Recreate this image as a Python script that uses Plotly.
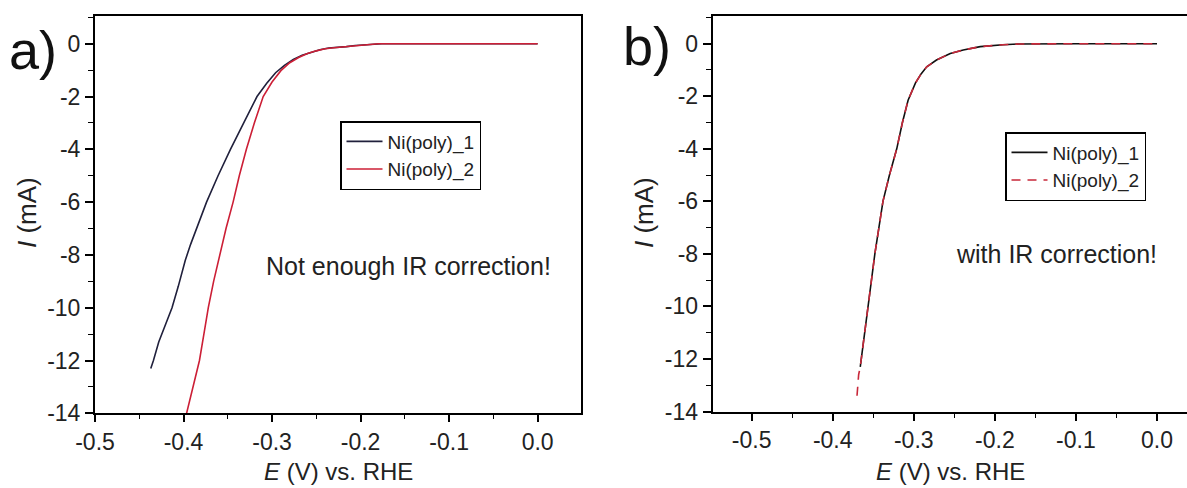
import plotly.graph_objects as go

# ---------------- data ----------------
# panel a) (not enough IR correction)
E_a1 = [-0.437, -0.434, -0.428, -0.420, -0.413, -0.406, -0.401, -0.398, -0.392, -0.384,
        -0.374, -0.361, -0.347, -0.332, -0.317, -0.306, -0.296, -0.286, -0.276, -0.266,
        -0.256, -0.246, -0.236, -0.226, -0.216, -0.206, -0.196, -0.186, -0.176, -0.150,
        -0.100, -0.050, 0.000]
I_a1 = [-12.3, -12.0, -11.3, -10.6, -10.0, -9.2, -8.5, -8.2, -7.6, -6.9,
        -6.0, -5.0, -4.0, -3.0, -2.0, -1.5, -1.1, -0.82, -0.60, -0.44,
        -0.32, -0.23, -0.16, -0.14, -0.11, -0.07, -0.04, -0.02, 0.0, 0.0,
        0.0, 0.0, 0.0]

E_a2 = [-0.398, -0.389, -0.382, -0.377, -0.372, -0.366, -0.359, -0.352, -0.344, -0.337,
        -0.329, -0.320, -0.310, -0.300, -0.290, -0.280, -0.270, -0.260, -0.250, -0.240,
        -0.230, -0.220, -0.210, -0.200, -0.190, -0.180, -0.150, -0.100, -0.050, 0.000]
I_a2 = [-14.2, -13.0, -12.0, -11.0, -10.0, -9.0, -8.0, -7.0, -6.0, -5.0,
        -4.0, -3.0, -2.0, -1.45, -1.02, -0.72, -0.52, -0.37, -0.27, -0.19,
        -0.15, -0.12, -0.08, -0.05, -0.02, 0.0, 0.0, 0.0, 0.0, 0.0]

# panel b) (with IR correction)
E_b1 = [-0.366, -0.362, -0.356, -0.348, -0.343, -0.338, -0.330, -0.321, -0.314, -0.307,
        -0.298, -0.291, -0.284, -0.272, -0.255, -0.239, -0.218, -0.205, -0.190, -0.170,
        -0.150, -0.100, -0.050, 0.000]
I_b1 = [-12.3, -11.3, -10.0, -8.0, -7.0, -6.0, -5.0, -4.0, -3.0, -2.15,
        -1.5, -1.15, -0.88, -0.62, -0.37, -0.24, -0.11, -0.07, -0.04, -0.01,
        0.0, 0.0, 0.0, 0.0]

E_b2 = [-0.370, -0.369, -0.368, -0.366, -0.362, -0.356, -0.348, -0.343, -0.338, -0.330,
        -0.321, -0.314, -0.307, -0.298, -0.291, -0.284, -0.272, -0.255, -0.239, -0.218,
        -0.205, -0.190, -0.170, -0.150, -0.100, -0.050, 0.000]
I_b2 = [-13.4, -13.0, -12.6, -12.3, -11.3, -10.0, -8.0, -7.0, -6.0, -5.0,
        -4.0, -3.0, -2.15, -1.5, -1.15, -0.88, -0.62, -0.37, -0.24, -0.11,
        -0.07, -0.04, -0.01, 0.0, 0.0, 0.0, 0.0]

names = ["Ni(poly)_1", "Ni(poly)_2"]
x_ticks = [-0.5, -0.4, -0.3, -0.2, -0.1, 0.0]
x_ticklabels = ["-0.5", "-0.4", "-0.3", "-0.2", "-0.1", "0.0"]
y_ticks = [0, -2, -4, -6, -8, -10, -12, -14]
y_ticklabels = ["0", "-2", "-4", "-6", "-8", "-10", "-12", "-14"]

# ---------------- figure ----------------
W, H = 1187, 488
FONT = "Liberation Sans, Arial, sans-serif"
BLACK_A = "#20203c"
RED_A = "#cc1f36"
RED_B = "#c8283a"

fig = go.Figure()
fig.add_trace(go.Scatter(x=E_a1, y=I_a1, mode="lines", name=names[0],
                         line=dict(color=BLACK_A, width=1.6), xaxis="x", yaxis="y", legend="legend"))
fig.add_trace(go.Scatter(x=E_a2, y=I_a2, mode="lines", name=names[1],
                         line=dict(color=RED_A, width=1.6), xaxis="x", yaxis="y", legend="legend"))
fig.add_trace(go.Scatter(x=E_b1, y=I_b1, mode="lines", name=names[0],
                         line=dict(color="#111111", width=1.6), xaxis="x2", yaxis="y2", legend="legend2"))
fig.add_trace(go.Scatter(x=E_b2, y=I_b2, mode="lines", name=names[1],
                         line=dict(color=RED_B, width=1.6, dash="9px,7px"), xaxis="x2", yaxis="y2",
                         legend="legend2"))


def px_x(p):
    return p / W


def px_y(p):
    return 1 - p / H


common_x = dict(tickvals=x_ticks, ticktext=x_ticklabels, ticks="outside", ticklen=7, tickwidth=1.6,
                tickcolor="black", showline=True, linecolor="black", linewidth=2, showgrid=False,
                zeroline=False, automargin=False, tickfont=dict(family=FONT, size=23, color="#222"),
                minor=dict(ticks="outside", ticklen=4, tickwidth=1.4, dtick=0.05, tickcolor="black",
                           showgrid=False))
common_y = dict(tickvals=y_ticks, ticktext=y_ticklabels, ticks="outside", ticklen=8, tickwidth=1.6,
                tickcolor="black", showline=True, linecolor="black", linewidth=2, showgrid=False,
                zeroline=False, automargin=False, tickfont=dict(family=FONT, size=23, color="#222"),
                minor=dict(ticks="outside", ticklen=5, tickwidth=1.4, dtick=1, tickcolor="black",
                           showgrid=False))

fig.update_layout(
    width=W, height=H,
    margin=dict(l=0, r=0, t=0, b=0, autoexpand=False),
    paper_bgcolor="white", plot_bgcolor="white",
    font=dict(family=FONT, color="#222"),
    xaxis=dict(domain=[px_x(95), px_x(581)], range=[-0.5, 0.049], anchor="y", mirror=True, **common_x),
    yaxis=dict(domain=[px_y(413.3), px_y(16)], range=[-14, 1.05], anchor="x", mirror=True, **common_y),
    xaxis2=dict(domain=[px_x(712.7), 1.0], range=[-0.548, 0.037], anchor="y2", mirror=True, **common_x),
    yaxis2=dict(domain=[px_y(411.5), px_y(16)], range=[-14, 1.055], anchor="x2", mirror=False, **common_y),
    legend=dict(x=px_x(340), y=px_y(121), xanchor="left", yanchor="top",
                bordercolor="black", borderwidth=1.5, bgcolor="white",
                font=dict(family=FONT, size=19, color="#222"), tracegroupgap=0, itemwidth=36),
    legend2=dict(x=px_x(1005), y=px_y(132), xanchor="left", yanchor="top",
                 bordercolor="black", borderwidth=1.5, bgcolor="white",
                 font=dict(family=FONT, size=19, color="#222"), tracegroupgap=0, itemwidth=36),
    showlegend=True,
)

ann = []
# panel labels
ann.append(dict(text="a)", x=px_x(33), y=px_y(50), xref="paper", yref="paper", showarrow=False,
                font=dict(family=FONT, size=54, color="#111"), xanchor="center", yanchor="middle"))
ann.append(dict(text="b)", x=px_x(647), y=px_y(46), xref="paper", yref="paper", showarrow=False,
                font=dict(family=FONT, size=54, color="#111"), xanchor="center", yanchor="middle"))
# axis titles
for cx in (338, 950):
    ann.append(dict(text="<i>E</i> (V) vs. RHE", x=px_x(cx), y=px_y(471), xref="paper", yref="paper",
                    showarrow=False, font=dict(family=FONT, size=24, color="#222"),
                    xanchor="center", yanchor="middle"))
for cx in (27, 644):
    ann.append(dict(text="<i>I</i> (mA)", x=px_x(cx), y=px_y(213), xref="paper", yref="paper",
                    showarrow=False, textangle=-90, font=dict(family=FONT, size=26, color="#222"),
                    xanchor="center", yanchor="middle"))
# notes
ann.append(dict(text="Not enough IR correction!", x=-0.1458, y=-8.42, xref="x", yref="y",
                showarrow=False, font=dict(family=FONT, size=25, color="#222"),
                xanchor="center", yanchor="middle"))
ann.append(dict(text="with IR correction!", x=-0.1237, y=-7.99, xref="x2", yref="y2",
                showarrow=False, font=dict(family=FONT, size=25, color="#222"),
                xanchor="center", yanchor="middle"))
fig.update_layout(annotations=ann)

fig.write_html("out.html")
